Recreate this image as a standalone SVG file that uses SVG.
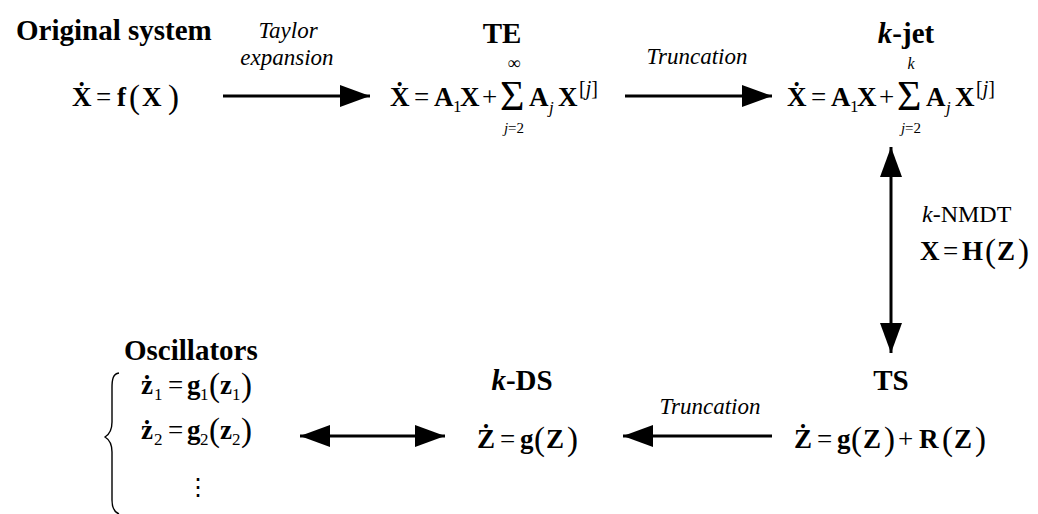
<svg xmlns="http://www.w3.org/2000/svg" width="1038" height="514" viewBox="0 0 1038 514">
<style>
text{font-family:"Liberation Serif","Times New Roman",serif;fill:#000}
.h{font-weight:bold;font-size:29px}
.lab{font-style:italic;font-size:23px}
.b{font-weight:bold;font-size:27px}
.n{font-size:27px}
.p{font-size:33px}
.s{font-size:17px}
.si{font-size:17px;font-style:italic}
.sup{font-size:20px}
.sig{font-size:42px}
.lim{font-size:15px;text-anchor:middle}
.ln{stroke:#000;stroke-width:3;fill:none}
</style>
<defs>
<marker id="ah" markerUnits="userSpaceOnUse" markerWidth="30" markerHeight="22" viewBox="0 0 30 22" refX="30" refY="11" orient="auto-start-reverse">
<path d="M0,0 L30,11 L0,22 Z" fill="#000"/>
</marker>
</defs>

<g id="original">
<text class="h" x="16" y="40">Original system</text>
<g transform="translate(72,106)">
<text class="b" x="0" y="0">Ẋ</text>
<text class="n" x="24" y="0">=</text>
<text class="b" x="45" y="0">f</text>
<text class="p" x="57" y="2">(</text>
<text class="b" x="70" y="0">X</text>
<text class="p" x="96" y="2">)</text>
</g>
</g>

<g id="te">
<text class="h" x="502" y="43" text-anchor="middle">TE</text>
<g transform="translate(390,106)">
<text class="b" x="0" y="0">Ẋ</text>
<text class="n" x="24" y="0">=</text>
<text class="b" x="44" y="0">A</text>
<text class="s" x="63" y="6">1</text>
<text class="b" x="70" y="0">X</text>
<text class="n" x="92" y="0">+</text>
<text class="sig" x="110" y="4">Σ</text>
<text class="lim" x="124" y="-37" style="font-size:18px">∞</text>
<text class="lim" x="124" y="27"><tspan font-style="italic">j</tspan>=2</text>
<text class="b" x="139" y="0">A</text>
<text class="si" x="159" y="7">j</text>
<text class="b" x="168" y="0">X</text>
<text class="sup" x="189" y="-11">[<tspan font-style="italic">j</tspan>]</text>
</g>
</g>

<g id="kjet">
<text class="h" x="906" y="43" text-anchor="middle"><tspan font-style="italic">k</tspan>-jet</text>
<g transform="translate(787,106)">
<text class="b" x="0" y="0">Ẋ</text>
<text class="n" x="24" y="0">=</text>
<text class="b" x="44" y="0">A</text>
<text class="s" x="63" y="6">1</text>
<text class="b" x="70" y="0">X</text>
<text class="n" x="92" y="0">+</text>
<text class="sig" x="110" y="4">Σ</text>
<text class="lim" x="124" y="-37" style="font-size:16px;font-style:italic">k</text>
<text class="lim" x="124" y="27"><tspan font-style="italic">j</tspan>=2</text>
<text class="b" x="139" y="0">A</text>
<text class="si" x="159" y="7">j</text>
<text class="b" x="168" y="0">X</text>
<text class="sup" x="189" y="-11">[<tspan font-style="italic">j</tspan>]</text>
</g>
</g>

<g id="ts">
<text class="h" x="891" y="390" text-anchor="middle">TS</text>
<g transform="translate(794,448)">
<text class="b" x="0" y="0">Ż</text>
<text class="n" x="23" y="0">=</text>
<text class="b" x="43" y="0">g</text>
<text class="p" x="57" y="2">(</text>
<text class="b" x="69" y="0">Z</text>
<text class="p" x="90" y="2">)</text>
<text class="n" x="104" y="0">+</text>
<text class="b" x="125" y="0">R</text>
<text class="p" x="148" y="2">(</text>
<text class="b" x="160" y="0">Z</text>
<text class="p" x="181" y="2">)</text>
</g>
</g>

<g id="kds">
<text class="h" x="522" y="390" text-anchor="middle"><tspan font-style="italic">k</tspan>-DS</text>
<g transform="translate(477,448)">
<text class="b" x="0" y="0">Ż</text>
<text class="n" x="23" y="0">=</text>
<text class="b" x="43" y="0">g</text>
<text class="p" x="57" y="2">(</text>
<text class="b" x="69" y="0">Z</text>
<text class="p" x="90" y="2">)</text>
</g>
</g>

<g id="oscillators">
<text class="h" x="124" y="360">Oscillators</text>
<path d="M119,373 C113,374 112,379 112,388 L112,422 C112,430 110,434 105,437 C110,440 112,444 112,452 L112,500 C112,508 114,512 119,514" fill="none" stroke="#000" stroke-width="1.4"/>
<g transform="translate(141,394)">
<text class="b" x="0" y="0">ż</text>
<text class="s" x="13" y="6">1</text>
<text class="n" x="27" y="0">=</text>
<text class="b" x="46" y="0">g</text>
<text class="s" x="59" y="6">1</text>
<text class="p" x="68" y="2">(</text>
<text class="b" x="79" y="0">z</text>
<text class="s" x="91" y="6">1</text>
<text class="p" x="100" y="2">)</text>
</g>
<g transform="translate(141,439)">
<text class="b" x="0" y="0">ż</text>
<text class="s" x="13" y="6">2</text>
<text class="n" x="27" y="0">=</text>
<text class="b" x="46" y="0">g</text>
<text class="s" x="59" y="6">2</text>
<text class="p" x="68" y="2">(</text>
<text class="b" x="79" y="0">z</text>
<text class="s" x="91" y="6">2</text>
<text class="p" x="100" y="2">)</text>
</g>
<text x="198" y="495" text-anchor="middle" style="font-family:'DejaVu Serif',serif;font-size:24px">⋮</text>
</g>

<g id="connectors">
<line class="ln" x1="223" y1="96" x2="370" y2="96" marker-end="url(#ah)"/>
<text class="lab" x="288" y="38" text-anchor="middle">Taylor</text>
<text class="lab" x="287" y="65" text-anchor="middle">expansion</text>
<line class="ln" x1="625" y1="96" x2="772" y2="96" marker-end="url(#ah)"/>
<text class="lab" x="697" y="64" text-anchor="middle">Truncation</text>
<line class="ln" x1="891" y1="147" x2="891" y2="353" marker-start="url(#ah)" marker-end="url(#ah)"/>
<text x="922" y="222" style="font-size:24px"><tspan font-style="italic">k</tspan>-NMDT</text>
<g transform="translate(920,260)">
<text class="b" x="0" y="0">X</text>
<text class="n" x="23" y="0">=</text>
<text class="b" x="42" y="0">H</text>
<text class="p" x="65" y="2">(</text>
<text class="b" x="77" y="0">Z</text>
<text class="p" x="98" y="2">)</text>
</g>
<line class="ln" x1="772" y1="436" x2="623" y2="436" marker-end="url(#ah)"/>
<text class="lab" x="710" y="414" text-anchor="middle">Truncation</text>
<line class="ln" x1="300" y1="436" x2="445" y2="436" marker-start="url(#ah)" marker-end="url(#ah)"/>
</g>
</svg>
